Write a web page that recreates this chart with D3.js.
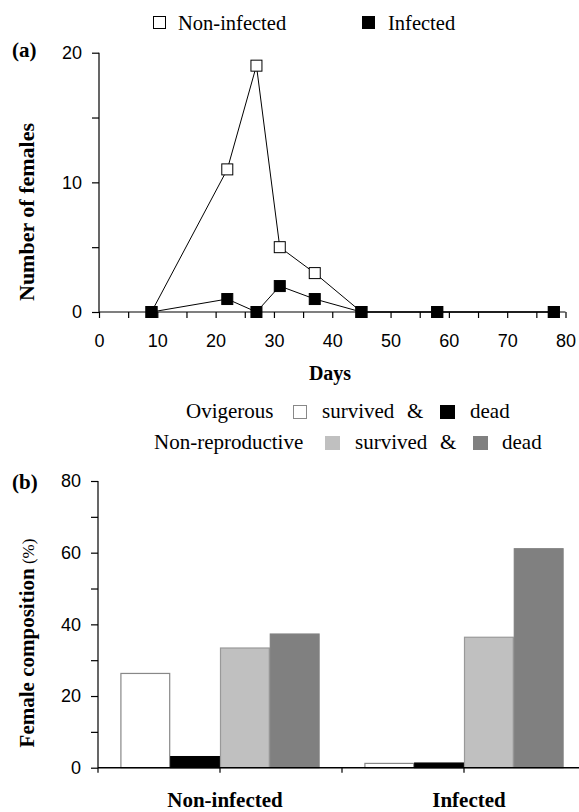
<!DOCTYPE html>
<html><head><meta charset="utf-8">
<script src="https://cdn.jsdelivr.net/npm/d3@7"></script>
<style>body{margin:0;background:#fff}svg{display:block}</style>
</head><body>
<script>
// Panel (a) data
const days = [9, 22, 27, 31, 37, 45, 58, 78];
const nonInfected = [0, 11, 19, 5, 3, 0, 0, 0];
const infected = [0, 1, 0, 2, 1, 0, 0, 0];
const xTicksA = [0, 10, 20, 30, 40, 50, 60, 70, 80];
const yTicksA = [0, 10, 20];

// Panel (b) data
const groups = ["Non-infected", "Infected"];
const subgroups = ["Ovigerous survived", "Ovigerous dead", "Non-reproductive survived", "Non-reproductive dead"];
const compNonInfected = [26.3, 3.1, 33.4, 37.3];
const compInfected = [1.2, 1.3, 36.4, 61.1];
const yTicksB = [0, 20, 40, 60, 80];
const subColors = ["#ffffff", "#000000", "#c0c0c0", "#808080"];
const subStrokes = ["#888888", "#000000", "#999999", "#808080"];

const W = 579, H = 812;
const serif = "'Liberation Serif', 'Times New Roman', serif";
const sans = "'Liberation Sans', Arial, sans-serif";
const svg = d3.select("body").append("svg").attr("width", W).attr("height", H);

// ---------- Panel (a) ----------
const xA = d3.scaleLinear().domain([0, 80]).range([99, 565.5]);
const yA = d3.scaleLinear().domain([0, 20]).range([312, 52.7]);

const gA = svg.append("g");
const xAxisA = gA.append("g").attr("transform", `translate(0,${yA(0)})`)
  .call(d3.axisBottom(xA).tickValues(d3.range(0, 81, 5)).tickSize(6).tickFormat(d => xTicksA.includes(d) ? d : ""));
xAxisA.select(".domain").attr("d", `M${xA(0)},0H${xA(80)}`);
const yAxisA = gA.append("g").attr("transform", `translate(${xA(0)},0)`)
  .call(d3.axisLeft(yA).tickValues(d3.range(0, 21, 5)).tickSize(7).tickFormat(d => yTicksA.includes(d) ? d : ""));
yAxisA.select(".domain").attr("d", `M0,${yA(20)}V${yA(0)}`);
[xAxisA, yAxisA].forEach(ax => {
  ax.selectAll("line, path").attr("stroke", "#000").attr("stroke-width", 1.2);
  ax.selectAll("text").attr("font-family", sans).attr("font-size", 18).attr("fill", "#000");
});
xAxisA.selectAll("text").attr("y", 22);
yAxisA.selectAll("text").attr("x", -17);

const line = d3.line().x((d, i) => xA(days[i])).y(d => yA(d));
gA.append("path").datum(nonInfected).attr("d", line).attr("fill", "none").attr("stroke", "#000").attr("stroke-width", 1);
gA.append("path").datum(infected).attr("d", line).attr("fill", "none").attr("stroke", "#000").attr("stroke-width", 1);
const ms = 11;
gA.selectAll(".mo").data(nonInfected).join("rect")
  .attr("x", (d, i) => xA(days[i]) - ms / 2).attr("y", d => yA(d) - ms / 2)
  .attr("width", ms).attr("height", ms).attr("fill", "#fff").attr("stroke", "#000").attr("stroke-width", 1);
gA.selectAll(".mi").data(infected).join("rect")
  .attr("x", (d, i) => xA(days[i]) - ms / 2).attr("y", d => yA(d) - ms / 2)
  .attr("width", ms).attr("height", ms).attr("fill", "#000").attr("stroke", "#000").attr("stroke-width", 1);

// legend (a)
svg.append("rect").attr("x", 153.5).attr("y", 16.5).attr("width", 12).attr("height", 12).attr("fill", "#fff").attr("stroke", "#000");
svg.append("text").attr("x", 178).attr("y", 30).text("Non-infected").attr("font-family", serif).attr("font-size", 20.5);
svg.append("rect").attr("x", 362).attr("y", 16).attr("width", 13).attr("height", 13).attr("fill", "#000");
svg.append("text").attr("x", 388).attr("y", 30).text("Infected").attr("font-family", serif).attr("font-size", 20.5);

svg.append("text").attr("x", 12).attr("y", 57).text("(a)").attr("font-family", serif).attr("font-size", 21).attr("font-weight", "bold");
svg.append("text").attr("transform", "translate(34,212) rotate(-90)").attr("text-anchor", "middle")
  .text("Number of females").attr("font-family", serif).attr("font-size", 22).attr("font-weight", "bold");
svg.append("text").attr("x", 330).attr("y", 380).attr("text-anchor", "middle")
  .text("Days").attr("font-family", serif).attr("font-size", 20).attr("font-weight", "bold");

// legend (b)
const lg = svg.append("g").attr("font-family", serif).attr("font-size", 21);
lg.append("text").attr("x", 186).attr("y", 418).text("Ovigerous");
lg.append("rect").attr("x", 293.5).attr("y", 405.5).attr("width", 13).attr("height", 13).attr("fill", "#fff").attr("stroke", "#888");
lg.append("text").attr("x", 322).attr("y", 418).text("survived");
lg.append("text").attr("x", 407).attr("y", 418).text("&");
lg.append("rect").attr("x", 440).attr("y", 405).attr("width", 15).attr("height", 14).attr("fill", "#000");
lg.append("text").attr("x", 470).attr("y", 418).text("dead");
lg.append("text").attr("x", 154).attr("y", 449).text("Non-reproductive");
lg.append("rect").attr("x", 325).attr("y", 436).attr("width", 15).attr("height", 14).attr("fill", "#c0c0c0");
lg.append("text").attr("x", 355).attr("y", 449).text("survived");
lg.append("text").attr("x", 440).attr("y", 449).text("&");
lg.append("rect").attr("x", 473).attr("y", 436).attr("width", 15).attr("height", 14).attr("fill", "#808080");
lg.append("text").attr("x", 502).attr("y", 449).text("dead");

// ---------- Panel (b) ----------
const x0 = d3.scaleBand().domain(groups).range([98, 586]).paddingInner(0).paddingOuter(0);
const x1 = d3.scaleBand().domain(subgroups).range([0, x0.bandwidth()]).paddingInner(0).paddingOuter(0.45);
const yB = d3.scaleLinear().domain([0, 80]).range([767.7, 481]);
const tableB = groups.map((g, gi) => ({ group: g, values: (gi === 0 ? compNonInfected : compInfected) }));

const gB = svg.append("g");
tableB.forEach(row => {
  gB.append("g").attr("transform", `translate(${x0(row.group)},0)`)
    .selectAll("rect").data(row.values).join("rect")
    .attr("x", (d, i) => x1(subgroups[i]) + 0.5)
    .attr("y", d => yB(d))
    .attr("width", x1.bandwidth() - 1)
    .attr("height", d => yB(0) - yB(d))
    .attr("fill", (d, i) => subColors[i])
    .attr("stroke", (d, i) => subStrokes[i]).attr("stroke-width", 1.2);
});

const yAxisB = gB.append("g").attr("transform", `translate(98,0)`)
  .call(d3.axisLeft(yB).tickValues(d3.range(0, 81, 10)).tickSize(7).tickFormat(d => yTicksB.includes(d) ? d : ""));
yAxisB.select(".domain").attr("d", `M0,${yB(80)}V${yB(0) + 5}`);
yAxisB.selectAll("text").attr("font-family", sans).attr("font-size", 18).attr("fill", "#000").attr("x", -17);
const xTickPos = [x0("Non-infected") + x0.bandwidth() / 2, x0("Infected"), x0("Infected") + x0.bandwidth() / 2];
const xAxisB = gB.append("g").attr("transform", `translate(0,${yB(0)})`);
xAxisB.append("line").attr("x1", 98).attr("x2", 586).attr("stroke", "#000").attr("stroke-width", 1.5);
xAxisB.selectAll(".tk").data(xTickPos).join("line")
  .attr("x1", d => d).attr("x2", d => d).attr("y1", 0).attr("y2", 5).attr("stroke", "#000").attr("stroke-width", 1.2);
yAxisB.selectAll("line, path").attr("stroke", "#000").attr("stroke-width", 1.2);

gB.selectAll(".gl").data(groups).join("text")
  .attr("x", d => x0(d) + x0.bandwidth() / 2 + 5).attr("y", 807).attr("text-anchor", "middle")
  .text(d => d).attr("font-family", serif).attr("font-size", 21).attr("font-weight", "bold");

svg.append("text").attr("x", 12).attr("y", 489).text("(b)").attr("font-family", serif).attr("font-size", 21).attr("font-weight", "bold");
const yl = svg.append("text").attr("transform", "translate(34,643) rotate(-90)").attr("text-anchor", "middle").attr("font-family", serif);
yl.append("tspan").text("Female composition").attr("font-weight", "bold").attr("font-size", 21);
yl.append("tspan").text(" (%)").attr("font-size", 17);
</script>
</body></html>
